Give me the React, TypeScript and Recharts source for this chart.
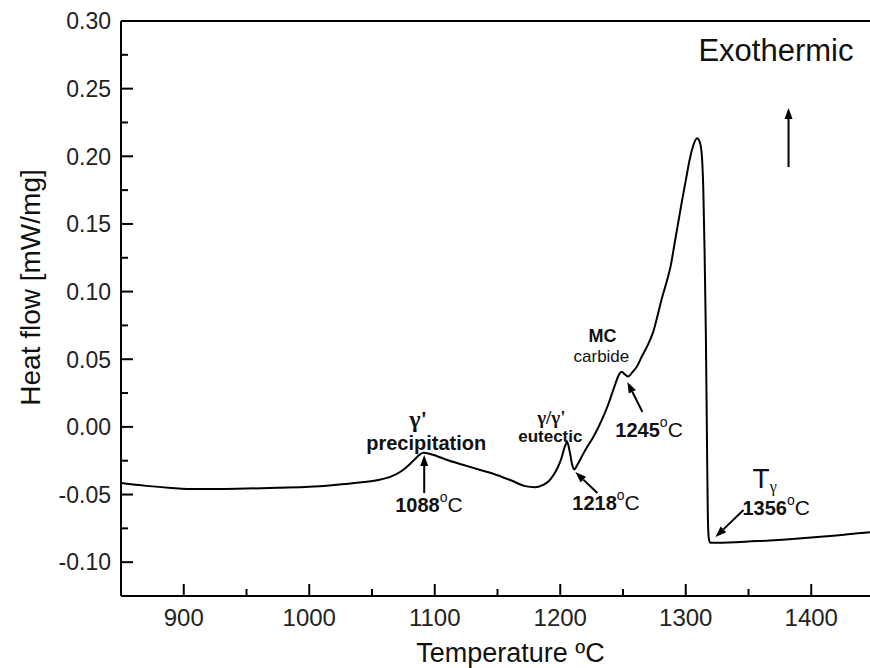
import React from 'react'
import {
  LineChart,
  Line,
  XAxis,
  YAxis,
  ReferenceLine,
  ReferenceDot,
} from 'recharts'

// DSC heating curve
const temps = [
  850, 870, 890, 910, 930, 950, 975, 1000, 1020, 1040, 1055, 1065, 1073, 1079, 1084, 1088,
  1091, 1095, 1101, 1110, 1123, 1137, 1150, 1162, 1172, 1180, 1186, 1191, 1195, 1198, 1201,
  1203.5, 1205.5, 1207.5, 1209.5, 1211, 1214, 1218, 1222, 1226, 1230, 1234, 1238, 1241, 1244,
  1247, 1249, 1251, 1254, 1258, 1261, 1265, 1270, 1274, 1278, 1281, 1285, 1288, 1291, 1294,
  1297, 1300, 1303, 1306, 1309, 1311, 1312.5, 1314, 1315, 1316, 1316.8, 1317.5, 1318.3,
  1319.5, 1340, 1360, 1380, 1400, 1420, 1440, 1450,
]
const heatFlow = [
  -0.0415, -0.0436, -0.0451, -0.046, -0.0459, -0.0456, -0.045, -0.0443, -0.0429, -0.0411,
  -0.0393, -0.0368, -0.033, -0.0285, -0.024, -0.0205, -0.0191, -0.0196, -0.0213, -0.0245,
  -0.0282, -0.032, -0.0357, -0.04, -0.0438, -0.0446, -0.043, -0.04, -0.035, -0.03, -0.023,
  -0.015, -0.0112, -0.018, -0.028, -0.0315, -0.0275, -0.0205, -0.014, -0.008, -0.001, 0.007,
  0.016, 0.024, 0.032, 0.039, 0.0408, 0.0392, 0.0372, 0.041, 0.0445, 0.052, 0.061, 0.07,
  0.084, 0.095, 0.108, 0.119, 0.135, 0.151, 0.167, 0.182, 0.197, 0.208, 0.2133, 0.211, 0.204,
  0.175, 0.13, 0.07, 0, -0.06, -0.082, -0.0856, -0.0852, -0.0843, -0.0832, -0.0818, -0.0802,
  -0.0785, -0.0775,
]

const X_MIN = 850
const Y_MIN = -0.125
const xTicks = [900, 950, 1000, 1050, 1100, 1150, 1200, 1250, 1300, 1350, 1400]
const yTicks = [
  -0.1, -0.075, -0.05, -0.025, 0, 0.025, 0.05, 0.075, 0.1, 0.125, 0.15, 0.175, 0.2, 0.225,
  0.25, 0.275, 0.3,
]

// arrows: [from T, from value, to T, to value]
const arrows = [
  [1091.6, -0.0489, 1091.6, -0.0208],
  [1229.6, -0.0489, 1212, -0.0334],
  [1265.5, 0.011, 1253.5, 0.0332],
  [1346, -0.0614, 1323.7, -0.0814],
  [1381.9, 0.192, 1381.9, 0.2357],
]

// temperature call-outs: [text start T, value, label]
const tempLabels = [
  [1068.5, -0.0629, '1088'],
  [1209.6, -0.0614, '1218'],
  [1243.9, -0.0075, '1245'],
  [1345.2, -0.0651, '1356'],
]

const data = temps.map((t, i) => ({ t, hf: heatFlow[i] }))

const SANS = '"Liberation Sans", Arial, sans-serif'
const SERIF = '"Liberation Serif", "Times New Roman", serif'

const isMajorX = (v: number) => v % 100 === 0
const isMajorY = (v: number) => Math.round(v * 1000) % 50 === 0

function XTick({ x, y, payload }: any) {
  if (!isMajorX(payload.value)) return <g />
  return (
    <text x={x} y={y + 30} textAnchor="middle" fontSize={24} fill="#222" fontFamily={SANS}>
      {payload.value}
    </text>
  )
}

function YTick({ x, y, payload }: any) {
  if (!isMajorY(payload.value)) return <g />
  return (
    <text x={x - 10} y={y} dy="0.36em" textAnchor="end" fontSize={23} fill="#222" fontFamily={SANS}>
      {payload.value.toFixed(2)}
    </text>
  )
}

// inward tick marks drawn through the scales (~12px major, ~7px minor)
function TickMark({ x1, y1, x2, y2 }: any) {
  return <line x1={x1} y1={y1} x2={x2} y2={y2} stroke="#000" strokeWidth={2} />
}

function ArrowShape({ x1, y1, x2, y2 }: any) {
  const a = Math.atan2(y2 - y1, x2 - x1)
  const len = 11
  const w = 4
  const bx = x2 - len * Math.cos(a)
  const by = y2 - len * Math.sin(a)
  const px = -Math.sin(a) * w
  const py = Math.cos(a) * w
  return (
    <g>
      <line x1={x1} y1={y1} x2={bx} y2={by} stroke="#000" strokeWidth={2} />
      <polygon points={`${x2},${y2} ${bx + px},${by + py} ${bx - px},${by - py}`} fill="#000" />
    </g>
  )
}

function TempText(label: string) {
  return ({ cx, cy }: any) => (
    <text x={cx} y={cy} fontFamily={SANS} fill="#111">
      <tspan fontSize={20} fontWeight="bold">{label}</tspan>
      <tspan fontSize={14} dy={-10}>o</tspan>
      <tspan fontSize={21} dy={10}>C</tspan>
    </text>
  )
}

function TextAt(content: React.ReactNode, props: any) {
  return ({ cx, cy }: any) => (
    <text x={cx} y={cy} fill="#111" {...props}>
      {content}
    </text>
  )
}

export default function App() {
  return (
    <div style={{ position: 'absolute', left: 0, top: 0, width: 870, height: 668, overflow: 'hidden', background: '#fff' }}>
      <LineChart width={874} height={668} data={data} margin={{ top: 21, right: 0, bottom: 0, left: 0 }}>
        <XAxis
          dataKey="t"
          type="number"
          domain={[850, 1450]}
          allowDataOverflow
          ticks={xTicks}
          interval={0}
          tick={XTick}
          tickLine={false}
          tickSize={0}
          tickMargin={0}
          height={72}
          axisLine={{ stroke: '#000', strokeWidth: 2 }}
          label={({ viewBox }: any) => (
            <text
              x={viewBox.x + viewBox.width / 2 + 13}
              y={662}
              textAnchor="middle"
              fontSize={27}
              fill="#111"
              fontFamily={SANS}
            >
              Temperature ºC
            </text>
          )}
        />
        <YAxis
          type="number"
          domain={[-0.125, 0.3]}
          allowDataOverflow
          ticks={yTicks}
          interval={0}
          tick={YTick}
          tickLine={false}
          tickSize={0}
          tickMargin={0}
          width={121}
          axisLine={{ stroke: '#000', strokeWidth: 2 }}
          label={({ viewBox }: any) => {
            const cy = viewBox.y + viewBox.height / 2 - 21
            return (
              <text
                x={30}
                y={cy}
                transform={`rotate(-90, 30, ${cy})`}
                textAnchor="middle"
                dominantBaseline="central"
                fontSize={28}
                fill="#111"
                fontFamily={SANS}
              >
                Heat flow [mW/mg]
              </text>
            )
          }}
        />
        <ReferenceLine y={0.3} stroke="#000" strokeWidth={2} />
        {xTicks.map((t) => (
          <ReferenceLine
            key={`xt${t}`}
            segment={[{ x: t, y: Y_MIN }, { x: t, y: Y_MIN + (isMajorX(t) ? 0.0089 : 0.0052) }]}
            shape={(p: any) => <TickMark {...p} />}
          />
        ))}
        {yTicks.map((v) => (
          <ReferenceLine
            key={`yt${v}`}
            segment={[{ x: X_MIN, y: v }, { x: X_MIN + (isMajorY(v) ? 9.6 : 5.6), y: v }]}
            shape={(p: any) => <TickMark {...p} />}
          />
        ))}
        <Line
          type="monotone"
          dataKey="hf"
          stroke="#000"
          strokeWidth={2}
          dot={false}
          isAnimationActive={false}
        />
        {arrows.map(([xa, ya, xb, yb], i) => (
          <ReferenceLine
            key={`a${i}`}
            segment={[{ x: xa, y: ya }, { x: xb, y: yb }]}
            shape={(p: any) => <ArrowShape {...p} />}
          />
        ))}
        {tempLabels.map(([t, v, label], i) => (
          <ReferenceDot key={`t${i}`} x={t as number} y={v as number} shape={TempText(label as string)} />
        ))}
        <ReferenceDot x={1086.8} y={0} shape={TextAt("γ'", { fontSize: 24, fontWeight: 'bold', fontFamily: SERIF, textAnchor: 'middle' })} />
        <ReferenceDot x={1093.2} y={-0.0171} shape={TextAt('precipitation', { fontSize: 20, fontWeight: 'bold', fontFamily: SANS, textAnchor: 'middle' })} />
        <ReferenceDot x={1192.9} y={0.0021} shape={TextAt("γ/γ'", { fontSize: 19, fontWeight: 'bold', fontFamily: SERIF, textAnchor: 'middle' })} />
        <ReferenceDot x={1192.1} y={-0.0112} shape={TextAt('eutectic', { fontSize: 17, fontWeight: 'bold', fontFamily: SANS, textAnchor: 'middle' })} />
        <ReferenceDot x={1233.6} y={0.0628} shape={TextAt('MC', { fontSize: 18, fontWeight: 'bold', fontFamily: SANS, textAnchor: 'middle' })} />
        <ReferenceDot x={1232.8} y={0.0479} shape={TextAt('carbide', { fontSize: 17, fontFamily: SANS, textAnchor: 'middle' })} />
        <ReferenceDot
          x={1353.2}
          y={-0.045}
          shape={TextAt(
            <>
              <tspan fontSize={28} fontFamily={SANS}>T</tspan>
              <tspan fontSize={16} fontFamily={SERIF} dy={4}>γ</tspan>
            </>,
            {}
          )}
        />
        <ReferenceDot x={1310.1} y={0.2704} shape={TextAt('Exothermic', { fontSize: 31, fontFamily: SANS })} />
      </LineChart>
    </div>
  )
}
